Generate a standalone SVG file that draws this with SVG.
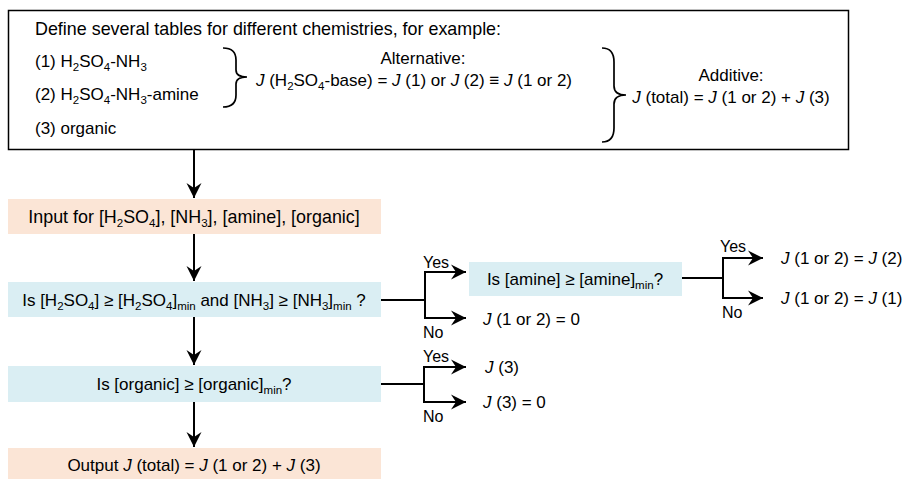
<svg xmlns="http://www.w3.org/2000/svg" width="902" height="479" viewBox="0 0 902 479">
<defs>
<marker id="ah" viewBox="-16 -8 17 16" refX="0" refY="0" markerWidth="17" markerHeight="16" markerUnits="userSpaceOnUse" orient="auto">
<path d="M0,0 L-15,-7.5 L-10,0 L-15,7.5 Z" fill="#000"/>
</marker>
<style>
text{font-family:"Liberation Sans",Arial,sans-serif;font-size:17px;fill:#000}
.c{text-anchor:middle}
.big{font-size:17.9px}
.sub{font-size:11.5px}
.i{font-style:italic}
.lab{font-size:16px}
.peach{fill:#fbe5d6}
.blue{fill:#daeef3}
.ln{stroke:#000;stroke-width:2;fill:none}
.arr{stroke:#000;stroke-width:2;fill:none;marker-end:url(#ah)}
.br{stroke:#000;stroke-width:1.7;fill:none}
</style>
</defs>
<rect width="902" height="479" fill="#fff"/>

<g id="tables">
<rect x="8.5" y="10.5" width="840" height="139" fill="#fff" stroke="#000" stroke-width="1.5"/>
<text class="big" x="35" y="35">Define several tables for different chemistries, for example:</text>
<text x="35" y="67">(1) H<tspan class="sub" dy="4">2</tspan><tspan dy="-4">SO</tspan><tspan class="sub" dy="4">4</tspan><tspan dy="-4">-NH</tspan><tspan class="sub" dy="4">3</tspan></text>
<text x="35" y="100">(2) H<tspan class="sub" dy="4">2</tspan><tspan dy="-4">SO</tspan><tspan class="sub" dy="4">4</tspan><tspan dy="-4">-NH</tspan><tspan class="sub" dy="4">3</tspan><tspan dy="-4">-amine</tspan></text>
<text x="35" y="134">(3) organic</text>
<path class="br" d="M223,48 Q236,48 236,60 L236,70 Q236,77 247,77 Q236,77 236,84 L236,95 Q236,107 223,107"/>
<text class="c" x="423" y="64">Alternative:</text>
<text class="c" x="414" y="86"><tspan class="i">J</tspan> (H<tspan class="sub" dy="4">2</tspan><tspan dy="-4">SO</tspan><tspan class="sub" dy="4">4</tspan><tspan dy="-4">-base) = </tspan><tspan class="i">J</tspan> (1) or <tspan class="i">J</tspan> (2) ≡ <tspan class="i">J</tspan> (1 or 2)</text>
<path class="br" d="M602,48 Q614,48 614,62 L614,86 Q614,95 626,95 Q614,95 614,104 L614,128 Q614,142 602,142"/>
<text class="c" x="731" y="81">Additive:</text>
<text class="c" x="731" y="103"><tspan class="i">J</tspan> (total) = <tspan class="i">J</tspan> (1 or 2) + <tspan class="i">J</tspan> (3)</text>
</g>

<g id="input">
<rect class="peach" x="8" y="199" width="373" height="35"/>
<text class="c big" x="194" y="223">Input for [H<tspan class="sub" dy="4">2</tspan><tspan dy="-4">SO</tspan><tspan class="sub" dy="4">4</tspan><tspan dy="-4">], [NH</tspan><tspan class="sub" dy="4">3</tspan><tspan dy="-4">], [amine], [organic]</tspan></text>
</g>

<g id="check-sulfuric">
<rect class="blue" x="8" y="282" width="373" height="35"/>
<text class="c" x="194" y="306">Is [H<tspan class="sub" dy="4">2</tspan><tspan dy="-4">SO</tspan><tspan class="sub" dy="4">4</tspan><tspan dy="-4">] ≥ [H</tspan><tspan class="sub" dy="4">2</tspan><tspan dy="-4">SO</tspan><tspan class="sub" dy="4">4</tspan><tspan dy="-4">]</tspan><tspan class="sub" dy="4">min</tspan><tspan dy="-4"> and [NH</tspan><tspan class="sub" dy="4">3</tspan><tspan dy="-4">] ≥ [NH</tspan><tspan class="sub" dy="4">3</tspan><tspan dy="-4">]</tspan><tspan class="sub" dy="4">min</tspan><tspan dy="-4"> ?</tspan></text>
</g>

<g id="check-amine">
<rect class="blue" x="469" y="262" width="213" height="34"/>
<text class="c" x="575" y="285">Is [amine] ≥ [amine]<tspan class="sub" dy="4">min</tspan><tspan dy="-4">?</tspan></text>
</g>

<g id="res-12-zero">
<text x="483" y="325"><tspan class="i">J</tspan> (1 or 2) = 0</text>
</g>
<g id="res-12-2">
<text x="781" y="264"><tspan class="i">J</tspan> (1 or 2) = <tspan class="i">J</tspan> (2)</text>
</g>
<g id="res-12-1">
<text x="781" y="304"><tspan class="i">J</tspan> (1 or 2) = <tspan class="i">J</tspan> (1)</text>
</g>

<g id="check-organic">
<rect class="blue" x="8" y="366" width="373" height="36"/>
<text class="c" x="194" y="390">Is [organic] ≥ [organic]<tspan class="sub" dy="4">min</tspan><tspan dy="-4">?</tspan></text>
</g>
<g id="res-3">
<text x="485" y="373"><tspan class="i">J</tspan> (3)</text>
</g>
<g id="res-3-zero">
<text x="483" y="408"><tspan class="i">J</tspan> (3) = 0</text>
</g>

<g id="output">
<rect class="peach" x="8" y="448" width="373" height="31"/>
<text class="c" x="194" y="471">Output <tspan class="i">J</tspan> (total) = <tspan class="i">J</tspan> (1 or 2) + <tspan class="i">J</tspan> (3)</text>
</g>

<g id="connectors">
<line class="arr" x1="194" y1="150" x2="194" y2="198"/>
<line class="arr" x1="194" y1="234" x2="194" y2="281"/>
<line class="arr" x1="194" y1="317" x2="194" y2="365"/>
<line class="arr" x1="194" y1="402" x2="194" y2="447"/>

<line class="ln" x1="381" y1="300" x2="425" y2="300"/>
<line class="ln" x1="425" y1="271" x2="425" y2="319"/>
<line class="arr" x1="424" y1="272" x2="466" y2="272"/>
<line class="arr" x1="424" y1="318" x2="466" y2="318"/>
<text class="lab" x="423" y="268">Yes</text>
<text class="lab" x="423" y="338">No</text>

<line class="ln" x1="682" y1="278" x2="723" y2="278"/>
<line class="ln" x1="723" y1="257" x2="723" y2="299"/>
<line class="arr" x1="722" y1="258" x2="763" y2="258"/>
<line class="arr" x1="722" y1="298" x2="763" y2="298"/>
<text class="lab" x="720" y="252">Yes</text>
<text class="lab" x="722" y="318">No</text>

<line class="ln" x1="381" y1="384" x2="424" y2="384"/>
<line class="ln" x1="424" y1="366" x2="424" y2="403"/>
<line class="arr" x1="423" y1="367" x2="466" y2="367"/>
<line class="arr" x1="423" y1="402" x2="466" y2="402"/>
<text class="lab" x="423" y="362">Yes</text>
<text class="lab" x="423" y="422">No</text>
</g>
</svg>
